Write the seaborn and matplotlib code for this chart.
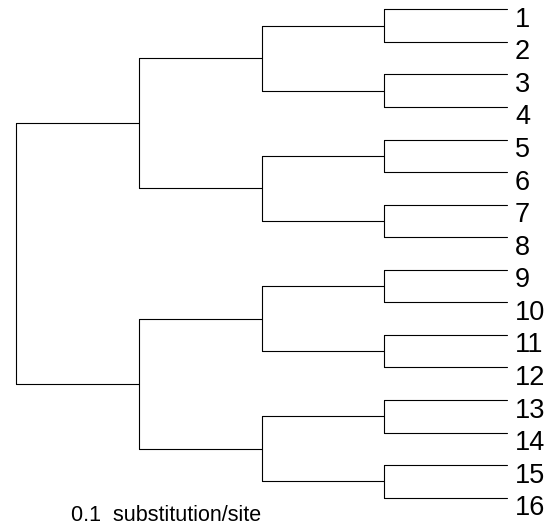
import matplotlib
matplotlib.use("Agg")
import matplotlib.pyplot as plt
import seaborn as sns
import pandas as pd

# Balanced tree over 16 taxa, written as nested pairs of leaf indices;
# every branch has the same length
leaf_labels = [str(i) for i in range(1, 17)]
tree = ((((0, 1), (2, 3)), ((4, 5), (6, 7))), (((8, 9), (10, 11)), ((12, 13), (14, 15))))
branch_length = 0.1
scale_label = "0.1  substitution/site"

sns.set_theme(style="white")
plt.rcParams["font.family"] = ["Liberation Sans", "DejaVu Sans"]


def tip_depth(node, depth):
    if isinstance(node, int):
        return depth
    return tip_depth(node[0], depth + branch_length)


max_depth = tip_depth(tree, 0.0)
segments = []


def layout(node, depth):
    """Return (x, y) of a node and collect the elbow segments below it."""
    if isinstance(node, int):
        return max_depth, float(node)
    kids = [layout(c, depth + branch_length) for c in node]
    ys = [k[1] for k in kids]
    # vertical connector joining the children
    segments.append([(depth, min(ys)), (depth, max(ys))])
    # horizontal branch to each child
    for kx, ky in kids:
        segments.append([(depth, ky), (kx, ky)])
    return depth, sum(ys) / len(ys)


layout(tree, 0.0)

rows = [{"seg": i, "x": x, "y": y} for i, seg in enumerate(segments) for x, y in seg]
df = pd.DataFrame(rows)

fig = plt.figure(figsize=(5.48, 5.32), dpi=100)
ax = fig.add_axes([0, 0, 1, 1])
sns.lineplot(data=df, x="x", y="y", units="seg", estimator=None, sort=False,
             color="black", linewidth=0.8, ax=ax)

for i, lab in enumerate(leaf_labels):
    ax.annotate(lab, xy=(max_depth, i), xytext=(8, -17.5), textcoords="offset pixels",
                ha="left", va="baseline", fontsize=19.5, color="black")

ax.text(71 / 548, 1 - 521 / 532, scale_label, transform=ax.transAxes,
        ha="left", va="baseline", fontsize=15.5, color="black")

px_x = (507 - 16) / max_depth
ax.set_xlim(-16 / px_x, (548 - 16) / px_x)
px_y = (497.7 - 9.3) / 15
ax.set_ylim((532 - 9.3) / px_y, -9.3 / px_y)
ax.axis("off")
fig.savefig("out.png", dpi=100)
